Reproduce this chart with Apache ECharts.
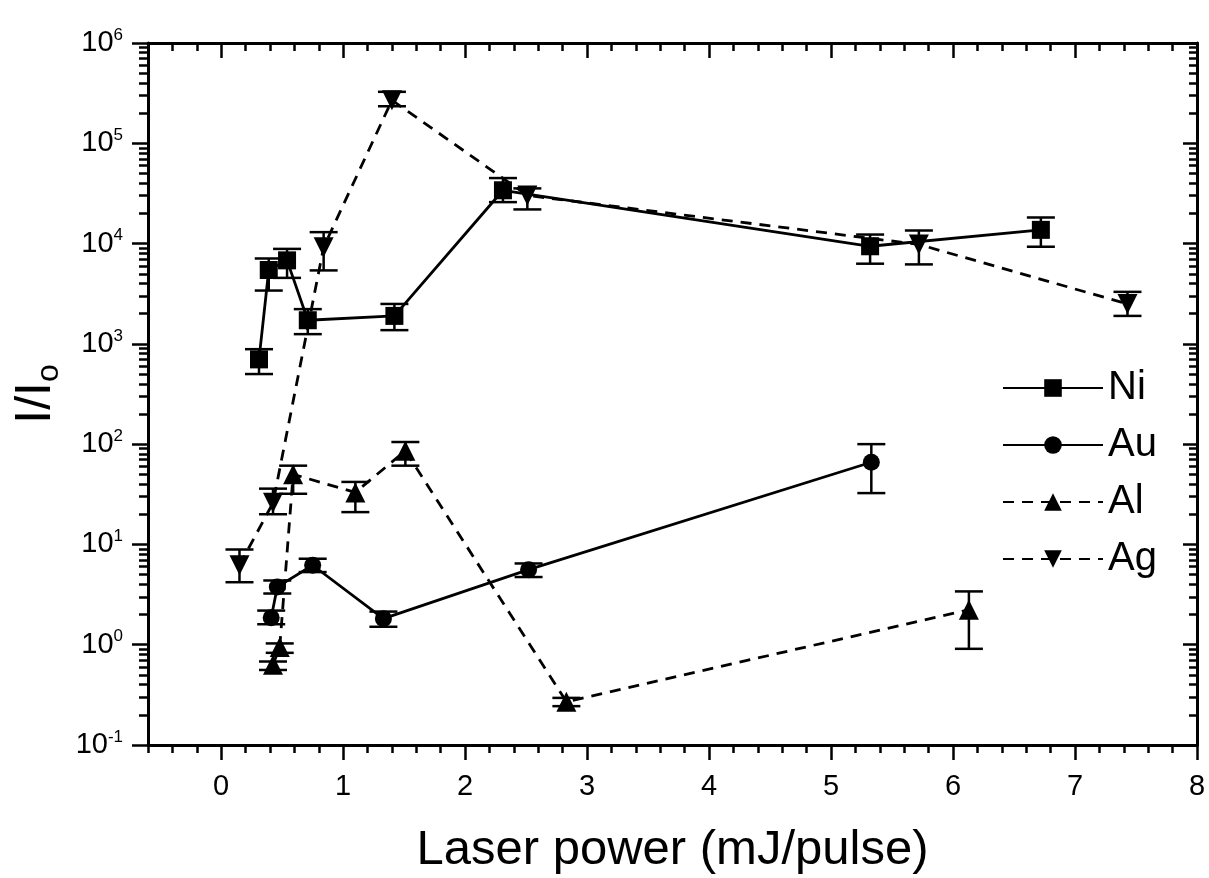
<!DOCTYPE html>
<html>
<head>
<meta charset="utf-8">
<script src="https://cdn.jsdelivr.net/npm/echarts@6/dist/echarts.min.js"></script>
<style>
  html, body { margin: 0; padding: 0; background: #fff; }
  #chart { width: 1209px; height: 878px; }
</style>
</head>
<body>
<div id="chart"></div>
<script>
// data
const niX = [0.31, 0.39, 0.54, 0.71, 1.42, 2.31, 5.32, 6.72];
const niY = [700, 5450, 6800, 1720, 1900, 34000, 9400, 13700];
const niLow = [500, 3400, 4550, 1250, 1370, 25900, 6300, 9300];
const niHigh = [885, 7100, 8850, 2220, 2500, 45000, 12300, 18200];

const auX = [0.41, 0.46, 0.75, 1.33, 2.52, 5.33];
const auY = [1.86, 3.77, 6.2, 1.82, 5.6, 66];
const auLow = [1.6, 3.24, 5.3, 1.51, 4.73, 32.5];
const auHigh = [2.19, 4.37, 7.2, 2.14, 6.46, 100];

const alX = [0.425, 0.48, 0.59, 1.10, 1.51, 2.83, 6.13];
const alY = [0.63, 0.95, 50, 33, 86, 0.27, 2.23];
const alLow = [0.56, 0.83, 32, 21, 61, 0.244, 0.91];
const alHigh = [0.68, 1.03, 61, 42, 105, 0.295, 3.4];

const agX = [0.15, 0.425, 0.84, 1.40, 2.51, 5.72, 7.43];
const agY = [6.2, 26, 9200, 269000, 30200, 9800, 2500];
const agLow = [4.2, 20, 5400, 234000, 21900, 6200, 1900];
const agHigh = [8.9, 36, 13000, 326000, 35500, 13500, 3300];

const xMajor = [0, 1, 2, 3, 4, 5, 6, 7, 8];

const FONT = "'Liberation Sans', Arial, sans-serif";

// minor ticks of the log axis: 2..9 in every decade
const yMinor = [];
for (let e = -1; e < 6; e++) {
    for (let m = 2; m <= 9; m++) yMinor.push(m * Math.pow(10, e));
}

const pts = (xs, ys) => xs.map((x, i) => [x, ys[i]]);
const bars = (xs, lo, hi) => xs.map((x, i) => [x, lo[i], hi[i]]);

function errorSeries(data) {
    return {
        type: 'custom',
        xAxisIndex: 0,
        yAxisIndex: 0,
        silent: true,
        z: 1,
        data: data,
        renderItem: function (params, api) {
            const x = api.value(0);
            const lo = api.coord([x, api.value(1)]);
            const hi = api.coord([x, api.value(2)]);
            const w = 14;
            const st = { stroke: '#000', lineWidth: 2.5 };
            return {
                type: 'group',
                children: [
                    { type: 'line', shape: { x1: lo[0], y1: lo[1], x2: hi[0], y2: hi[1] }, style: st },
                    { type: 'line', shape: { x1: lo[0] - w, y1: lo[1], x2: lo[0] + w, y2: lo[1] }, style: st },
                    { type: 'line', shape: { x1: hi[0] - w, y1: hi[1], x2: hi[0] + w, y2: hi[1] }, style: st }
                ]
            };
        }
    };
}

function lineSeries(name, data, symbol, size, dashed) {
    return {
        name: name,
        type: 'line',
        xAxisIndex: 0,
        yAxisIndex: 0,
        data: data,
        symbol: symbol,
        symbolSize: size,
        z: 3,
        itemStyle: { color: '#000' },
        lineStyle: { color: '#000', width: 2.8, type: dashed ? [11, 8] : 'solid' }
    };
}

const axisLineStyle = { show: true, onZero: false, lineStyle: { color: '#000', width: 3 } };
const noLine = { show: false, onZero: false };
const tickStyle = { color: '#000', width: 2.5 };

const chart = echarts.init(document.getElementById('chart'));
chart.setOption({
    backgroundColor: '#fff',
    animation: false,
    grid: { left: 148, right: 12, top: 43, bottom: 133, containLabel: false, outerBoundsMode: 'none' },
    legend: {
        orient: 'vertical',
        left: 997,
        top: 363,
        itemWidth: 100,
        itemHeight: 22,
        itemGap: 17,
        textStyle: { fontFamily: FONT, fontSize: 40, color: '#000' },
        data: ['Ni', 'Au', 'Al', 'Ag']
    },
    xAxis: [
        {
            type: 'value', position: 'bottom', min: -0.6, max: 8, interval: 0.2,
            axisLine: axisLineStyle,
            axisTick: { show: true, inside: false, length: 8, lineStyle: tickStyle },
            splitLine: { show: false },
            axisLabel: {
                margin: 27, fontFamily: FONT, fontSize: 29, color: '#000',
                formatter: v => Math.abs(v - Math.round(v)) < 1e-6 && v >= 0 ? String(Math.round(v)) : ''
            },
            name: 'Laser power (mJ/pulse)', nameLocation: 'middle', nameGap: 81,
            nameTextStyle: { fontFamily: FONT, fontSize: 49, color: '#000' }
        },
        {
            type: 'value', position: 'bottom', min: -0.6, max: 8,
            axisLine: noLine,
            axisTick: { show: true, inside: false, length: 15, customValues: xMajor, lineStyle: tickStyle },
            axisLabel: { show: false, customValues: xMajor },
            splitLine: { show: false }
        },
        {
            type: 'value', position: 'top', min: -0.6, max: 8, interval: 0.2,
            axisLine: axisLineStyle,
            axisTick: { show: true, inside: true, length: 8, lineStyle: tickStyle },
            axisLabel: { show: false },
            splitLine: { show: false }
        },
        {
            type: 'value', position: 'top', min: -0.6, max: 8,
            axisLine: noLine,
            axisTick: { show: true, inside: true, length: 15, customValues: xMajor, lineStyle: tickStyle },
            axisLabel: { show: false, customValues: xMajor },
            splitLine: { show: false }
        }
    ],
    yAxis: [
        {
            type: 'log', logBase: 10, position: 'left', min: 0.1, max: 1e6, interval: 1,
            axisLine: axisLineStyle,
            axisTick: { show: true, inside: false, length: 16, lineStyle: tickStyle },
            splitLine: { show: false },
            axisLabel: {
                margin: 25, color: '#000',
                formatter: v => '{b|10}{s|' + Math.round(Math.log10(v)) + '}',
                rich: {
                    b: { fontFamily: FONT, fontSize: 29, color: '#000' },
                    s: { fontFamily: FONT, fontSize: 17, color: '#000', padding: [0, 0, 16, 0] }
                }
            },
            name: '{a|I/I}{o|o}', nameLocation: 'middle', nameGap: 80, nameRotate: 90,
            nameTextStyle: {
                rich: {
                    a: { fontFamily: FONT, fontSize: 50, color: '#000' },
                    o: { fontFamily: FONT, fontSize: 32, color: '#000', padding: [26, 0, 0, 0] }
                }
            }
        },
        {
            type: 'log', logBase: 10, position: 'left', min: 0.1, max: 1e6,
            axisLine: noLine,
            axisTick: { show: true, inside: false, length: 9, customValues: yMinor, lineStyle: tickStyle },
            axisLabel: { show: false, customValues: yMinor },
            splitLine: { show: false }
        },
        {
            type: 'log', logBase: 10, position: 'right', min: 0.1, max: 1e6, interval: 1,
            axisLine: axisLineStyle,
            axisTick: { show: true, inside: true, length: 14, lineStyle: tickStyle },
            axisLabel: { show: false },
            splitLine: { show: false }
        },
        {
            type: 'log', logBase: 10, position: 'right', min: 0.1, max: 1e6,
            axisLine: noLine,
            axisTick: { show: true, inside: true, length: 8, customValues: yMinor, lineStyle: tickStyle },
            axisLabel: { show: false, customValues: yMinor },
            splitLine: { show: false }
        }
    ],
    series: [
        errorSeries(bars(niX, niLow, niHigh)),
        errorSeries(bars(auX, auLow, auHigh)),
        errorSeries(bars(alX, alLow, alHigh)),
        errorSeries(bars(agX, agLow, agHigh)),
        lineSeries('Ni', pts(niX, niY), 'rect', 18, false),
        lineSeries('Au', pts(auX, auY), 'circle', 17, false),
        lineSeries('Al', pts(alX, alY), 'triangle', 20, true),
        lineSeries('Ag', pts(agX, agY), 'path://M0,0 L10,0 L5,10 Z', 20, true)
    ]
});
</script>
</body>
</html>
